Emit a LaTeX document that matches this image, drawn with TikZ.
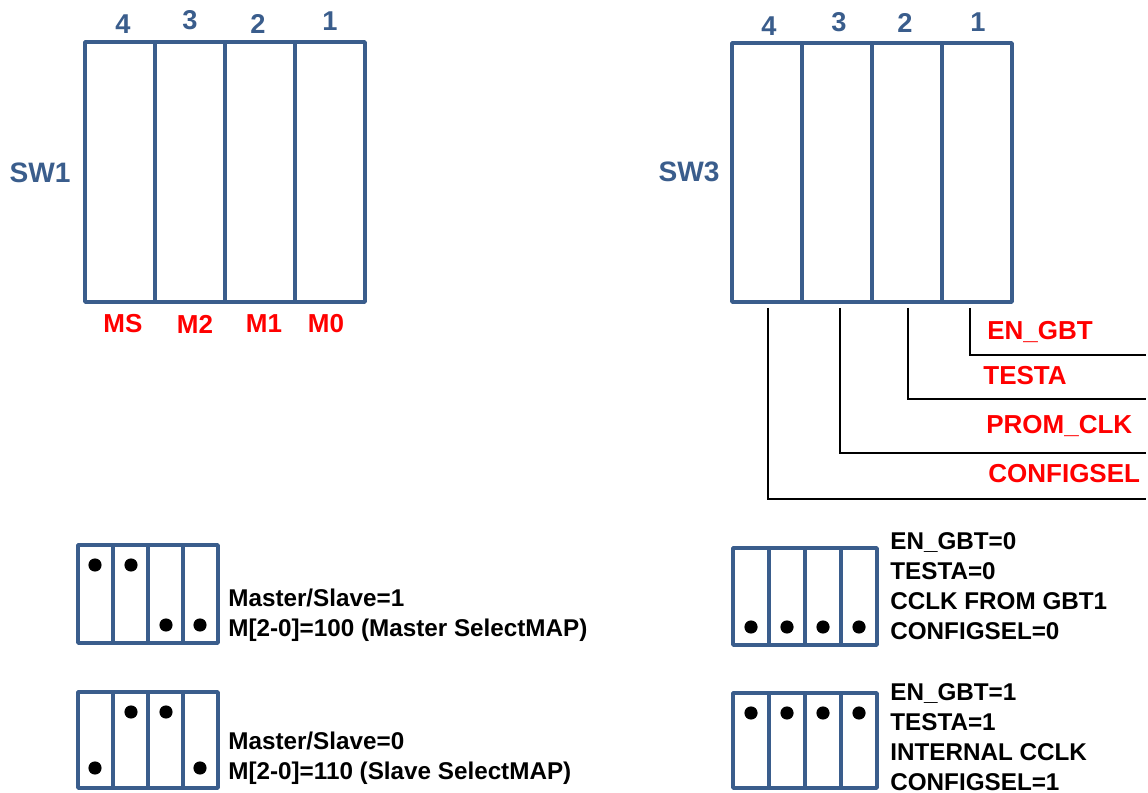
\documentclass[tikz,border=0pt]{standalone}
\usepackage{fontspec}
\setmainfont{Liberation Sans}
\usepackage{tikz}
\usetikzlibrary{positioning}

\definecolor{swblue}{RGB}{58,93,140}
\definecolor{pinred}{RGB}{255,0,0}

\tikzset{
  swbox/.style={draw=swblue,line width=2pt,line join=round},
  swname/.style={text=swblue,font=\bfseries\fontsize{16}{19}\selectfont},
  pinnum/.style={text=swblue,font=\bfseries\fontsize{15.5}{18}\selectfont},
  pinlbl/.style={text=pinred,font=\bfseries\fontsize{14.8}{17}\selectfont},
  lead/.style={draw=black,line width=1.5pt},
  jumper/.style={circle,fill=black,inner sep=0pt,minimum size=7.5pt},
  note/.style={font=\bfseries\fontsize{13.8}{17}\selectfont,align=left,anchor=west,inner sep=0pt}
}

\begin{document}
\begin{tikzpicture}[x=0.02cm,y=-0.02cm]
  \useasboundingbox (0,0) rectangle (1148,793);

  % SW1
  \foreach \i in {0,...,3}
    \draw[swbox] (85+70*\i,42) rectangle ++(70,260);
  \node[swname] (sw1) at (40,173) {SW1};
  \foreach \n/\x/\y in {4/123/24,3/190/20,2/258/24,1/330/21}
    \node[pinnum] (a\n) at (\x,\y) {\n};
  \foreach \t/\x in {MS/123,M2/195,M1/264,M0/326}
    \node[pinlbl] (m\t) at (\x,324) {\t};

  % SW3
  \foreach \i in {0,...,3}
    \draw[swbox] (732+70*\i,43) rectangle ++(70,259);
  \node[swname] (sw3) at (689,172) {SW3};
  \foreach \n/\x/\y in {4/769/26,3/839/22,2/905/23,1/978/22}
    \node[pinnum] (b\n) at (\x,\y) {\n};

  % leads of SW3
  \coordinate (t1) at (970,308);
  \coordinate (t2) at (908,308);
  \coordinate (t3) at (840,308);
  \coordinate (t4) at (768,308);
  \coordinate (e1) at (1146,355);
  \coordinate (e2) at (1146,399);
  \coordinate (e3) at (1146,453);
  \coordinate (e4) at (1146,499);
  \foreach \k in {1,...,4}
    \draw[lead] (t\k) |- (e\k);
  \node[pinlbl,anchor=west,inner sep=0pt] (engbt) at (987,332) {EN\_GBT};
  \node[pinlbl,anchor=west,inner sep=0pt] (testa) at (983,376) {TESTA};
  \node[pinlbl,anchor=west,inner sep=0pt] (promclk) at (986,426) {PROM\_CLK};
  \node[pinlbl,anchor=west,inner sep=0pt] (cfgsel) at (988,474) {CONFIGSEL};

  % SW1 settings
  \foreach \i in {0,...,3}
    \draw[swbox] (78+35*\i,545) rectangle ++(35,98);
  \foreach \k/\x/\y in {1/95/565,2/131/565,3/166/625,4/200/625}
    \node[jumper] (p\k) at (\x,\y) {};
  \node[note] (master) at (228,615) {Master/Slave=1\\M[2-0]=100 (Master SelectMAP)};

  \foreach \i in {0,...,3}
    \draw[swbox] (78+35*\i,692) rectangle ++(35,96);
  \foreach \k/\x/\y in {1/95/768,2/131/712,3/166/712,4/200/768}
    \node[jumper] (q\k) at (\x,\y) {};
  \node[note] (slave) at (228,758) {Master/Slave=0\\M[2-0]=110 (Slave SelectMAP)};

  % SW3 settings
  \foreach \i in {0,...,3}
    \draw[swbox] (733+36*\i,548) rectangle ++(36,97);
  \foreach \k in {1,...,4}
    \node[jumper] (r\k) at (751+36*\k-36,627) {};
  \node[note] (gbtclk) at (890,586) {EN\_GBT=0\\TESTA=0\\CCLK FROM GBT1\\CONFIGSEL=0};

  \foreach \i in {0,...,3}
    \draw[swbox] (733+36*\i,693) rectangle ++(36,95);
  \foreach \k in {1,...,4}
    \node[jumper] (s\k) at (751+36*\k-36,713) {};
  \node[note] (intclk) at (890,737) {EN\_GBT=1\\TESTA=1\\INTERNAL CCLK\\CONFIGSEL=1};
\end{tikzpicture}
\end{document}
